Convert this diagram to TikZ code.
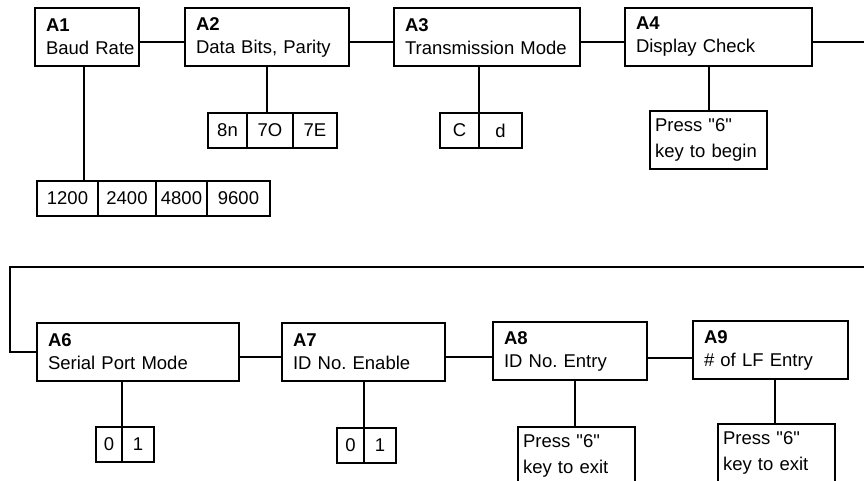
\documentclass[tikz,border=0pt]{standalone}
\usepackage{fontspec}
\setmainfont{Liberation Sans}
\usetikzlibrary{positioning}
\frenchspacing
\tikzset{
  menu/.style ={draw,line width=2pt,anchor=north west,align=left,inner xsep=11pt,inner ysep=0pt,outer sep=0pt,minimum height=58pt,font=\fontsize{18.5}{23}\selectfont},
  opt/.style  ={draw,line width=2pt,inner sep=0pt,outer sep=0pt,minimum height=35pt,font=\fontsize{18.5}{22}\selectfont},
  press/.style={draw,line width=2pt,anchor=north west,align=left,inner xsep=5pt,inner ysep=0pt,outer sep=0pt,minimum height=58pt,text width=107pt,font=\fontsize{18.5}{26}\selectfont},
  link/.style ={line width=2pt},
}
\newcommand{\qt}{\textquotedbl}

\begin{document}
\begin{tikzpicture}[x=1pt,y=-1pt]
  \useasboundingbox (0,0) rectangle (864,481);
  \clip (0,0) rectangle (864,481);

  % ---- TOP ROW ----
  \node[menu,text width=82pt]  (a1) at (35,8)  {\textbf{A1}\\\mbox{Baud Rate}};
  \node[menu,text width=142pt] (a2) at (185,8) {\textbf{A2}\\Data Bits, Parity};
  \node[menu,text width=164pt] (a3) at (394,8) {\textbf{A3}\\Transmission Mode};
  \node[menu,text width=165pt] (a4) at (625,8) {\textbf{A4}\\Display Check};
  \draw[link] ([yshift=-5pt]a1.east) -- ([yshift=-5pt]a1.east -| a2.west);
  \draw[link] ([yshift=-5pt]a2.east) -- ([yshift=-5pt]a2.east -| a3.west);
  \draw[link] ([yshift=-5pt]a3.east) -- ([yshift=-5pt]a3.east -| a4.west);

  % baud rates
  \node[opt,anchor=north west,minimum width=61pt] (b1) at (37,181) {1200};
  \node[opt,minimum width=58pt,right=0pt of b1] (b2) {2400};
  \node[opt,minimum width=51pt,right=0pt of b2] (b3) {4800};
  \node[opt,minimum width=63pt,right=0pt of b3] (b4) {9600};
  \draw[link] ([xshift=-3pt]a1.south) -- ([xshift=-3pt]a1.south |- b1.north);

  % data bits / parity
  \node[opt,anchor=north west,minimum width=39pt] (d1) at (208,113) {8n};
  \node[opt,minimum width=46pt,right=0pt of d1] (d2) {7O};
  \node[opt,minimum width=44pt,right=0pt of d2] (d3) {7E};
  \draw[link] (a2.south) -- (a2.south |- d2.north);

  % transmission mode
  \node[opt,anchor=north west,minimum width=39pt] (m1) at (440,113) {C};
  \node[opt,minimum width=43pt,right=0pt of m1] (m2) {d};
  \draw[link] (m1.north east |- a3.south) -- (m1.north east);

  % display check
  \node[press] (p4) at (650,111) {Press \qt6\qt\\key to begin};
  \draw[link] (p4.north |- a4.south) -- (p4.north);

  % wrap round to second row
  \coordinate (wrapA) at (870,42);
  \coordinate (wrapB) at (870,267);
  \coordinate (wrapC) at (10,267);

  % ---- BOTTOM ROW ----
  \node[menu,text width=180pt] (a6) at (37,323)  {\textbf{A6}\\Serial Port Mode};
  \node[menu,text width=141pt] (a7) at (282,323) {\textbf{A7}\\ID No. Enable};
  \node[menu,text width=132pt] (a8) at (493,322) {\textbf{A8}\\ID No. Entry};
  \node[menu,text width=133pt] (a9) at (693,321) {\textbf{A9}\\\# of LF Entry};
  \draw[link] ([yshift=-5pt]a4.east) -- (wrapA) -- (wrapB) -- (wrapC) |- (a6.west);
  \draw[link] ([yshift=-5pt]a6.east) -- ([yshift=-5pt]a6.east -| a7.west);
  \draw[link] ([yshift=-5pt]a7.east) -- ([yshift=-5pt]a7.east -| a8.west);
  \draw[link] ([yshift=-7pt]a8.east) -- ([yshift=-7pt]a8.east -| a9.west);

  % serial port mode
  \node[opt,anchor=north west,minimum width=26pt] (s1) at (96,427) {0};
  \node[opt,minimum width=32pt,right=0pt of s1] (s2) {1};
  \draw[link] (s1.north east |- a6.south) -- (s1.north east);

  % id enable
  \node[opt,anchor=north west,minimum width=27pt] (e1) at (337,428) {0};
  \node[opt,minimum width=32pt,right=0pt of e1] (e2) {1};
  \draw[link] (e1.north east |- a7.south) -- (e1.north east);

  % id entry, LF entry
  \node[press] (p8) at (518,427) {Press \qt6\qt\\key to exit};
  \node[press] (p9) at (718,424) {Press \qt6\qt\\key to exit};
  \draw[link] ([xshift=-2pt]p8.north |- a8.south) -- ([xshift=-2pt]p8.north);
  \draw[link] ([xshift=-2pt]p9.north |- a9.south) -- ([xshift=-2pt]p9.north);
\end{tikzpicture}
\end{document}
